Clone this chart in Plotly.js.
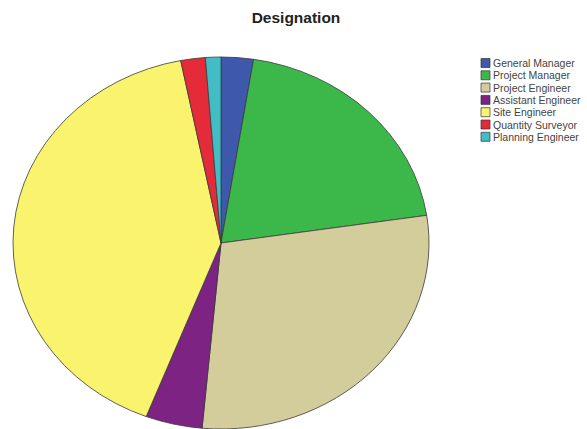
<!DOCTYPE html>
<html>
<head>
<meta charset="utf-8">
<script src="https://cdn.plot.ly/plotly-3.0.1.min.js"></script>
<style>html,body{margin:0;padding:0;background:#fff;}#chart{width:587px;height:429px;}</style>
</head>
<body>
<div id="chart"></div>
<script>
// Data (percent shares)
const categories = ["General Manager", "Project Manager", "Project Engineer", "Assistant Engineer", "Site Engineer", "Quantity Surveyor", "Planning Engineer"];
const shares = [2.5, 20.1, 28.8, 4.4, 41.0, 1.9, 1.2];
const colors = ["#3e58ab", "#3cb84a", "#d3cd9b", "#7c2383", "#f9f36e", "#e52b39", "#42bdc6"];

const W = 587, H = 429;
// pie geometry (layout only)
const pieCx = 221, pieCy = 243, pieRy = 186, pieRx = 208;

const trace = {
  type: "pie",
  labels: categories,
  values: shares,
  sort: false,
  direction: "clockwise",
  rotation: 0,
  textinfo: "none",
  hoverinfo: "label+value+percent",
  marker: { colors: colors, line: { color: "#3a3a3a", width: 0.8 } },
  domain: { x: [(pieCx - pieRy) / W, (pieCx + pieRy) / W], y: [(H - pieCy - pieRy) / H, (H - pieCy + pieRy) / H] },
  showlegend: false
};

// custom compact legend built from the category arrays
const legX = 481, legY0 = 63, legStep = 12.3, sw = 9, sh = 9;
const shapes = [], annotations = [];
categories.forEach((c, i) => {
  const yc = legY0 + i * legStep;
  shapes.push({
    type: "rect", xref: "paper", yref: "paper",
    x0: legX / W, x1: (legX + sw) / W,
    y0: 1 - (yc + sh / 2) / H, y1: 1 - (yc - sh / 2) / H,
    fillcolor: colors[i], line: { color: "#333", width: 0.7 }
  });
  annotations.push({
    xref: "paper", yref: "paper", x: (legX + sw + 1) / W, y: 1 - yc / H,
    xanchor: "left", yanchor: "middle", showarrow: false, text: c,
    font: { family: "Liberation Sans, Arial, sans-serif", size: 10.5, color: "#444" }
  });
});

const layout = {
  width: W, height: H,
  margin: { l: 0, r: 0, t: 0, b: 0 },
  paper_bgcolor: "#ffffff",
  title: {
    text: "<b>Designation</b>",
    font: { family: "Liberation Sans, Arial, sans-serif", size: 15.5, color: "#222" },
    x: 296 / W, xanchor: "center", xref: "paper",
    y: 1 - 18 / H, yanchor: "middle", yref: "container"
  },
  shapes: shapes,
  annotations: annotations,
  showlegend: false
};

Plotly.newPlot("chart", [trace], layout, { displayModeBar: false, staticPlot: true }).then(gd => {
  // stretch the pie horizontally into the ellipse of the reference
  const cd0 = gd.calcdata[0][0];
  const cx = cd0.cx;
  const sx = pieRx / pieRy;
  const g = gd.querySelector(".pielayer .trace");
  if (g) {
    g.setAttribute("transform", "matrix(" + sx + ",0,0,1," + (cx * (1 - sx)) + ",0)");
    g.querySelectorAll("path").forEach(p => p.setAttribute("vector-effect", "non-scaling-stroke"));
  }
});
</script>
</body>
</html>
